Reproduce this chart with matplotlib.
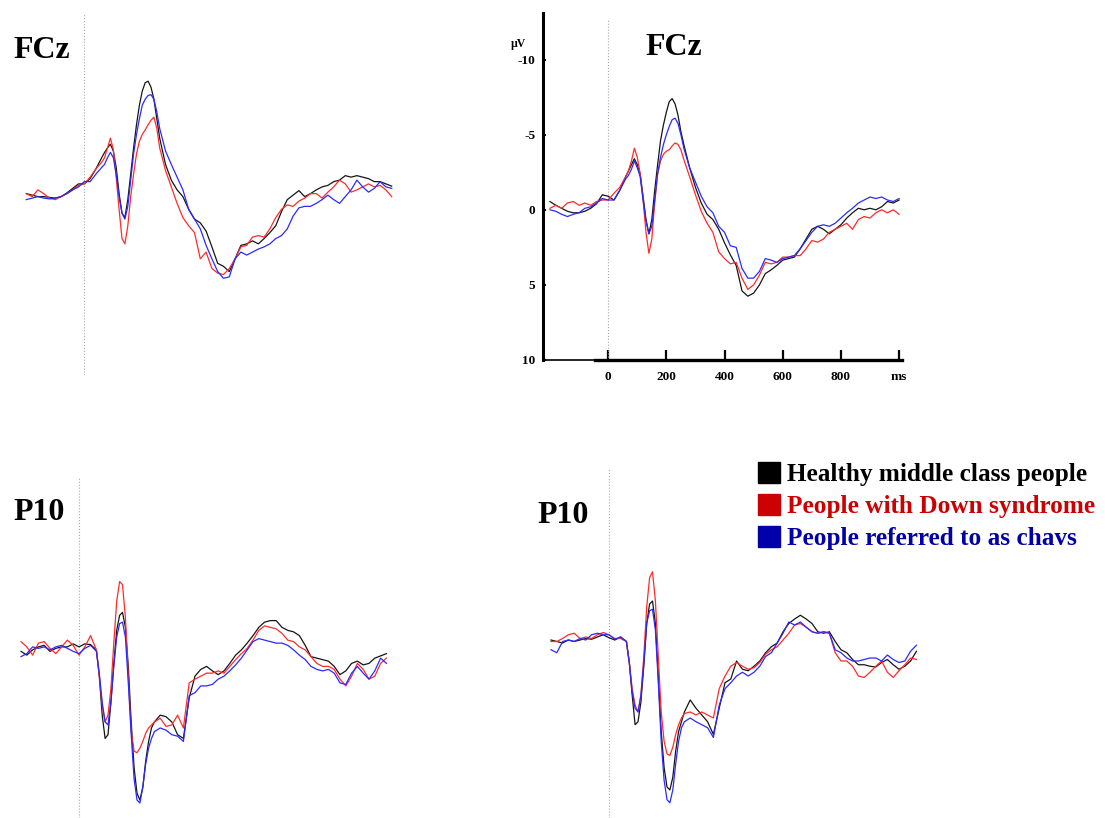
import matplotlib.pyplot as plt
from matplotlib.patches import Rectangle

W, H = 1105, 818
plt.rcParams['font.family'] = ['Liberation Serif', 'DejaVu Serif']

# tiempos de muestreo (ms)
t_pre = [-200, -180, -160, -140, -120, -100, -80, -60, -40, -20, 0, 20, 40]
t_mid = [60, 70, 80, 90, 100, 110, 120, 130, 140, 150, 160, 170, 180, 190, 200,
         210, 220, 230, 240, 250, 260]
t_post = [280, 300, 320, 340, 360, 380, 400, 420, 440, 460, 480, 500, 520, 540,
          560, 580, 600, 620, 640, 660, 680, 700, 720, 740, 760, 780, 800, 820,
          840, 860, 880, 900, 920, 940, 960, 980, 1000, 1020, 1040, 1060]
time_ms = t_pre + t_mid + t_post
time_ms_short = time_ms[:71]  # panel con ejes termina en 1000 ms

groups = ['Healthy middle class people', 'People with Down syndrome',
          'People referred to as chavs']
line_colors = ['#151515', '#ff2a2a', '#2a2aff']
label_colors = ['#000000', '#cc0000', '#0000aa']

# FCz (arriba izquierda), µV
fcz_a_healthy = [-0.2, -0.1, 0, 0, 0.05, 0.1, 0, -0.25, -0.55, -0.85, -0.85, -1.2, -1.85,
                 -2.6, -2.95, -3.25, -3.5, -3.05, -1.95, -0.2, 1.1, 1.4, 0.2, -1.5, -3.25, -4.8,
                 -6.1, -7.05, -7.6, -7.7, -7.3, -6.5, -5.2, -3.9,
                 -2.15, -1.1, -0.45, 0, 0.85, 1.5, 1.75, 2.3, 3.35, 4.45,
                 4.65, 5.0, 4.15, 3.25, 3.15, 2.95, 3.15, 2.8, 2.4, 1.95,
                 1.0, 0.2, -0.1, -0.4, 0, -0.2, -0.45, -0.65, -0.75, -1.0,
                 -1.1, -1.4, -1.3, -1.4, -1.3, -1.2, -1.0, -1.0, -0.85, -0.7]
fcz_a_down = [-0.2, 0, -0.45, -0.2, 0.1, 0.2, 0, -0.2, -0.45, -0.75, -0.85, -1.3, -1.85,
              -2.3, -2.6, -3.25, -3.9, -3.15, -1.3, 0.85, 2.8, 3.15, 1.95, 0, -1.5, -2.85,
              -3.7, -4.15, -4.45, -4.8, -5.1, -5.3, -4.55, -3.25,
              -1.75, -0.65, 0.45, 1.4, 1.95, 2.4, 4.15, 3.7, 4.8, 5.1,
              5.2, 4.8, 4.15, 3.35, 3.25, 2.7, 2.6, 2.7, 2.15, 1.4,
              0.85, 0.55, 0.65, 0.3, 0.1, -0.2, -0.2, 0.1, -0.3, -0.65,
              -1.1, -0.85, -0.3, -0.45, -0.65, -0.85, -0.65, -0.75, -0.45, 0]
fcz_a_chavs = [0.2, 0.1, 0, 0.1, 0.15, 0.1, 0, -0.2, -0.45, -0.65, -1.0, -1.0, -1.5,
               -1.95, -2.15, -2.6, -2.95, -2.6, -1.5, 0, 1.1, 1.5, 0.65, -1.1, -2.85, -4.15,
               -5.2, -6.1, -6.5, -6.75, -6.8, -6.5, -5.65, -4.55,
               -3.05, -2.15, -1.3, -0.45, 0.85, 1.5, 2.15, 3.25, 4.15, 5.0,
               5.45, 5.35, 4.15, 3.7, 3.9, 3.7, 3.5, 3.35, 3.15, 2.8,
               2.6, 2.15, 1.3, 0.75, 0.65, 0.65, 0.45, 0.2, -0.1, 0.2,
               0.45, 0, -0.45, -1.1, -0.65, -0.3, -0.55, -1.0, -0.65, -0.55]

# FCz (arriba derecha, con ejes)
fcz_b_healthy = [-0.55, -0.3, -0.1, 0.1, 0.2, 0.2, 0.1, -0.1, -0.4, -1.0, -0.9, -0.65, -1.3,
                 -2.2, -2.6, -3.0, -3.4, -3.0, -2.4, -0.9, 0.65, 1.6, 0.65, -1.3, -3.0, -4.6,
                 -5.65, -6.5, -7.2, -7.4, -7.05, -6.3, -5.2, -4.35,
                 -2.8, -1.5, -0.45, 0.3, 0.65, 1.3, 2.2, 3.0, 3.7, 5.4,
                 5.75, 5.55, 5.0, 4.25, 4.0, 3.7, 3.35, 3.25, 3.15, 2.6,
                 1.95, 1.3, 1.1, 1.3, 1.6, 1.3, 1.0, 0.55, 0.2, -0.1,
                 0, -0.1, 0, -0.2, -0.55, -0.45, -0.65]
fcz_b_down = [-0.1, -0.3, -0.1, -0.45, -0.55, -0.3, -0.45, -0.3, -0.55, -0.65, -0.65, -1.1, -1.5,
              -2.2, -2.6, -3.25, -4.1, -3.5, -2.4, -0.65, 1.5, 2.9, 1.95, -0.45, -2.4, -3.25,
              -3.7, -3.9, -4.0, -4.25, -4.45, -4.35, -4.0, -3.35,
              -2.2, -1.0, 0.1, 0.9, 1.5, 2.8, 3.25, 3.6, 3.5, 4.55,
              5.3, 5.0, 4.35, 3.5, 3.6, 3.5, 3.15, 3.15, 3.05, 3.05,
              2.6, 2.05, 2.15, 1.95, 1.5, 1.3, 1.1, 0.9, 1.3, 0.65,
              0.45, 0.55, 0.2, 0, 0.2, 0, 0.3]
fcz_b_chavs = [0, 0.1, 0.3, 0.45, 0.3, 0.2, -0.1, -0.2, -0.45, -0.75, -0.65, -0.65, -1.3,
               -2.05, -2.3, -2.7, -3.25, -2.8, -2.2, -0.65, 0.75, 1.6, 1.1, -0.65, -2.4, -3.5,
               -4.35, -5.0, -5.55, -6.0, -6.1, -5.75, -5.0, -4.1,
               -2.8, -1.85, -0.9, -0.2, 0.2, 1.1, 1.5, 2.4, 2.5, 3.9,
               4.55, 4.55, 4.1, 3.25, 3.35, 3.5, 3.25, 3.15, 3.05, 2.6,
               2.05, 1.5, 1.1, 1.0, 1.1, 0.9, 0.55, 0.2, -0.1, -0.45,
               -0.65, -0.85, -0.75, -0.85, -0.65, -0.55, -0.75]

# P10 (abajo izquierda)
p10_a_healthy = [0.2, 0.45, 0.1, -0.1, -0.2, 0.2, 0, -0.1, -0.1, -0.3, -0.1, -0.3, -0.25,
                 0.1, 1.85, 4.45, 6.0, 5.75, 3.6, 1.0, -1.2, -2.2, -2.4, -1.4, 1.2, 4.9,
                 7.95, 9.65, 10.1, 9.25, 7.5, 6.2, 5.3, 4.9,
                 4.45, 4.55, 4.9, 5.75, 6.0, 3.3, 1.85, 1.4, 1.2, 1.5,
                 1.75, 1.5, 1.0, 0.45, 0.1, -0.35, -0.85, -1.4, -1.75, -1.85,
                 -1.85, -1.4, -1.2, -1.1, -0.85, -0.2, 0.55, 0.65, 0.75, 0.85,
                 1.2, 1.75, 1.5, 1.0, 0.85, 1.1, 1.0, 0.65, 0.5, 0.35]
p10_a_down = [-0.45, -0.1, 0.45, -0.35, -0.45, 0, 0.35, -0.1, -0.55, -0.2, 0.45, -0.1, -0.85,
              0.1, 1.85, 3.8, 4.9, 4.45, 2.7, -0.35, -3.15, -4.45, -4.25, -2.05, 1.85, 5.55,
              6.85, 6.95, 6.65, 6.2, 5.65, 5.3, 5.1, 4.9,
              4.65, 5.2, 5.1, 4.45, 5.3, 2.3, 2.05, 1.85, 1.65, 1.65,
              1.5, 1.65, 1.2, 0.75, 0.35, 0, -0.55, -1.2, -1.5, -1.4,
              -1.3, -1.0, -0.55, -0.45, -0.1, 0.1, 0.55, 1.0, 1.2, 1.2,
              1.4, 2.05, 2.5, 1.85, 1.0, 1.4, 2.05, 1.85, 1.0, 0.65]
p10_a_chavs = [0.55, 0.35, -0.1, 0, -0.1, 0.1, -0.1, -0.2, 0, 0.2, 0.35, 0, -0.2,
               0.2, 1.65, 3.6, 4.9, 5.1, 3.6, 1.2, -0.75, -1.65, -1.75, -0.75, 2.3, 5.75,
               8.7, 10.1, 10.3, 9.25, 7.7, 6.65, 6.0, 5.55,
               5.3, 5.45, 5.75, 5.85, 6.2, 3.15, 2.95, 2.5, 2.5, 2.4,
               2.05, 1.85, 1.5, 1.1, 0.65, 0.1, -0.45, -0.65, -0.55, -0.45,
               -0.35, -0.35, -0.2, 0.1, 0.45, 0.75, 1.2, 1.4, 1.5, 1.4,
               1.65, 2.3, 2.4, 1.65, 1.2, 1.65, 2.05, 1.5, 0.65, 1.0]

# P10 (abajo derecha)
p10_b_healthy = [0, 0.1, 0.2, 0, 0.1, 0, -0.1, -0.05, -0.2, -0.35, -0.15, 0, -0.2,
                 0.1, 1.5, 3.7, 5.65, 5.45, 4.15, 1.75, -1.1, -2.4, -2.6, -1.1, 2.4, 6.1,
                 8.5, 9.8, 10.0, 9.15, 7.4, 6.1, 5.45, 4.8,
                 4.0, 4.55, 5.0, 5.45, 6.3, 4.55, 2.85, 2.6, 1.4, 1.95,
                 2.05, 1.75, 1.4, 0.85, 0.45, 0.2, -0.55, -1.1, -1.4, -1.65,
                 -1.4, -1.1, -0.55, -0.45, -0.55, 0.1, 0.65, 0.85, 1.3, 1.65,
                 1.65, 1.75, 1.8, 1.5, 1.3, 1.65, 1.95, 1.75, 1.4, 0.75]
p10_b_down = [0.1, 0.1, -0.1, -0.35, -0.45, -0.1, -0.2, -0.1, -0.35, -0.5, -0.35, -0.1, -0.1,
              0.1, 1.5, 3.25, 4.35, 4.8, 3.7, 1.1, -2.2, -4.15, -4.55, -2.6, 1.1, 4.8,
              6.75, 7.6, 7.7, 7.15, 6.3, 5.65, 5.2, 4.9,
              4.8, 5.0, 4.8, 5.0, 5.2, 3.25, 2.4, 1.75, 1.5, 1.75,
              1.95, 1.85, 1.5, 0.95, 0.65, 0.45, 0, -0.45, -1.0, -1.1,
              -0.85, -0.55, -0.45, -0.55, -0.45, 0.85, 1.4, 1.4, 1.75, 2.4,
              2.5, 2.15, 1.75, 1.4, 2.15, 2.5, 2.05, 1.65, 1.2, 1.3]
p10_b_chavs = [0.65, 0.85, 0.1, 0, 0.1, -0.1, 0, -0.35, -0.45, -0.35, -0.35, -0.05, -0.2,
               0.1, 1.5, 3.5, 4.55, 4.8, 3.7, 1.5, -1.1, -1.95, -2.05, -0.65, 2.85, 6.75,
               9.35, 10.65, 10.85, 10.0, 8.25, 6.75, 5.85, 5.45,
               5.2, 5.45, 5.65, 5.85, 6.5, 4.35, 3.25, 2.85, 2.4, 2.15,
               2.4, 2.15, 1.75, 1.1, 0.85, 0.2, -0.45, -1.2, -1.0, -1.2,
               -0.85, -0.55, -0.45, -0.55, -0.45, 0.65, 0.85, 1.2, 1.4, 1.4,
               1.3, 1.2, 1.2, 1.4, 1.0, 1.3, 1.5, 1.4, 0.75, 0.35]


def add_axes_px(left, right, top, bottom):
    return fig.add_axes([left / W, 1 - bottom / H, (right - left) / W, (bottom - top) / H])


def draw_waves(ax, t, series):
    for values, color in zip(series, line_colors):
        ax.plot(t, values, color=color, lw=0.9)


fig = plt.figure(figsize=(W / 100, H / 100), dpi=100)

# paneles sin ejes: (x izq, x der, y sup, y inf) en px, limites y
bare_panels = [
    ((17.6, 400.4, 13, 375), (11.9, -12.25), [fcz_a_healthy, fcz_a_down, fcz_a_chavs]),
    ((12.3, 395.1, 478, 818), (11.3, -11.35), [p10_a_healthy, p10_a_down, p10_a_chavs]),
    ((542.3, 925.1, 468, 818), (11.87, -11.47), [p10_b_healthy, p10_b_down, p10_b_chavs]),
]
for rect, ylim, series in bare_panels:
    ax = add_axes_px(*rect)
    ax.axvline(0, color='#a8a8a8', lw=0.8, ls=':')
    draw_waves(ax, time_ms, series)
    ax.set_xlim(-230, 1090)
    ax.set_ylim(*ylim)
    ax.axis('off')

# panel con ejes (FCz derecha)
ax = add_axes_px(543, 902, 13, 360)
ax.axvline(0, ymin=0, ymax=0.98, color='#a8a8a8', lw=0.8, ls=':')
draw_waves(ax, time_ms_short, [fcz_b_healthy, fcz_b_down, fcz_b_chavs])
ax.set_xlim(-224, 1010)
ax.set_ylim(10, -13.1)
for side in ['top', 'right', 'bottom']:
    ax.spines[side].set_visible(False)
ax.spines['left'].set_linewidth(2.2)
ax.axhline(10, xmin=0, xmax=0.145, color='black', lw=1.2, clip_on=False)
ax.axhline(10, xmin=0.145, xmax=1, color='black', lw=2.4, clip_on=False)
ax.set_yticks([-10, -5, 0, 5, 10])
ax.set_yticklabels(['-10', '-5', '0', '5', '10'])
ax.set_xticks([0, 200, 400, 600, 800, 1000])
ax.set_xticklabels(['0', '200', '400', '600', '800', 'ms'])
ax.tick_params(axis='y', direction='in', length=2.5, width=1.5, pad=5.5)
ax.tick_params(axis='x', direction='in', length=7, width=1.6, pad=8)
for lab in ax.get_xticklabels() + ax.get_yticklabels():
    lab.set_fontweight('bold')
    lab.set_fontsize(9.5)
fig.text(511 / W, 1 - 47 / H, 'µV', fontsize=8.5, fontweight='bold', ha='left', va='baseline')

# titulos de electrodo
for x, y, name in [(13, 58, 'FCz'), (645, 55, 'FCz'), (13, 520, 'P10'), (537, 523, 'P10')]:
    fig.text(x / W, 1 - y / H, name, fontsize=23, fontweight='bold', ha='left', va='baseline')

# leyenda
for i, (name, color) in enumerate(zip(groups, label_colors)):
    top = 462 + i * 32
    fig.patches.append(Rectangle((758 / W, 1 - (top + 21) / H), 22 / W, 21 / H,
                                 transform=fig.transFigure, color=color))
    fig.text(787 / W, 1 - (top + 19) / H, name, color=color, fontsize=18.2,
             fontweight='bold', ha='left', va='baseline')

fig.savefig('out.png', dpi=100)
